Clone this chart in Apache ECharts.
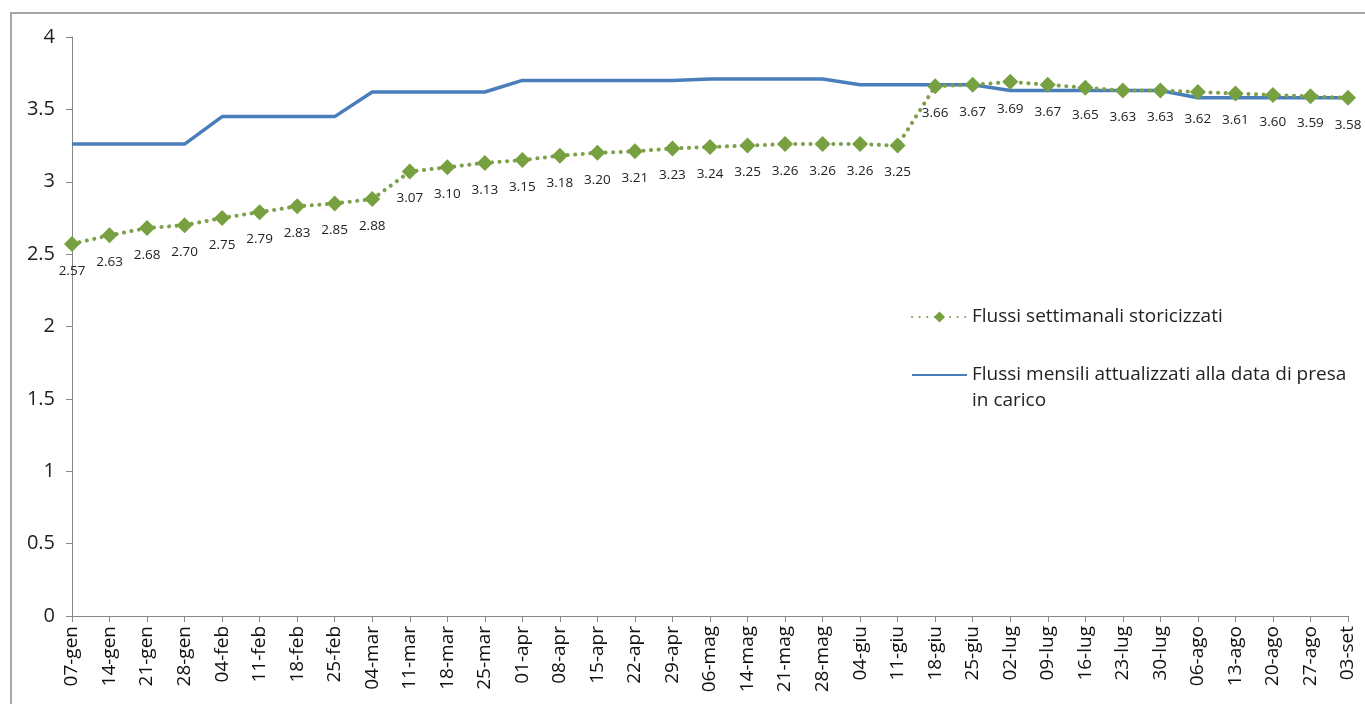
<!DOCTYPE html>
<html>
<head>
<meta charset="utf-8">
<script src="https://cdn.jsdelivr.net/npm/echarts@6/dist/echarts.min.js"></script>
<style>
html,body{margin:0;padding:0;background:#fff;}
#c{width:1365px;height:704px;}
</style>
</head>
<body>
<div id="c"></div>
<script>
const categories = ['07-gen','14-gen','21-gen','28-gen','04-feb','11-feb','18-feb','25-feb','04-mar','11-mar','18-mar','25-mar','01-apr','08-apr','15-apr','22-apr','29-apr','06-mag','14-mag','21-mag','28-mag','04-giu','11-giu','18-giu','25-giu','02-lug','09-lug','16-lug','23-lug','30-lug','06-ago','13-ago','20-ago','27-ago','03-set'];
const settimanali = [2.57,2.63,2.68,2.70,2.75,2.79,2.83,2.85,2.88,3.07,3.10,3.13,3.15,3.18,3.20,3.21,3.23,3.24,3.25,3.26,3.26,3.26,3.25,3.66,3.67,3.69,3.67,3.65,3.63,3.63,3.62,3.61,3.60,3.59,3.58];
const mensili = [3.26,3.26,3.26,3.26,3.45,3.45,3.45,3.45,3.62,3.62,3.62,3.62,3.70,3.70,3.70,3.70,3.70,3.71,3.71,3.71,3.71,3.67,3.67,3.67,3.67,3.63,3.63,3.63,3.63,3.63,3.58,3.58,3.58,3.58,3.58];
const yTicks = [0,0.5,1,1.5,2,2.5,3,3.5,4];
const nameSett = 'Flussi settimanali storicizzati';
const nameMens = 'Flussi mensili attualizzati alla data di presa in carico';

const FONT = '"Open Sans", sans-serif';
const chart = echarts.init(document.getElementById('c'));
chart.setOption({
  animation: false,
  backgroundColor: '#fff',
  graphic: [{
    type: 'rect', silent: true, z: -1,
    shape: {x: 11, y: 13, width: 1360, height: 700},
    style: {fill: 'none', stroke: '#a6a6a6', lineWidth: 2}
  }],
  grid: {left: 72, right: 17, top: 37, bottom: 88, containLabel: false},
  legend: {
    orient: 'vertical',
    left: 911, top: 304,
    itemGap: 6,
    itemWidth: 55, itemHeight: 14,
    padding: 0,
    data: [
      {name: nameSett},
      {name: nameMens, itemStyle: {opacity: 0}}
    ],
    formatter: function (n) { return n === nameMens ? ' \nFlussi mensili attualizzati alla data di presa\nin carico' : n; },
    textStyle: {fontFamily: FONT, fontSize: 19, color: '#222', lineHeight: 26}
  },
  xAxis: {
    type: 'category',
    data: categories,
    boundaryGap: false,
    axisLine: {lineStyle: {color: '#868686', width: 1}},
    axisTick: {show: true, alignWithLabel: true, length: 6, lineStyle: {color: '#868686'}},
    axisLabel: {rotate: 90, interval: 0, fontFamily: FONT, fontSize: 19, color: '#111', margin: 10},
    splitLine: {show: false}
  },
  yAxis: {
    type: 'value',
    min: yTicks[0], max: yTicks[yTicks.length - 1], interval: 0.5,
    axisLine: {show: true, lineStyle: {color: '#868686', width: 1}},
    axisTick: {show: true, length: 6, lineStyle: {color: '#868686'}},
    axisLabel: {fontFamily: FONT, fontSize: 20, color: '#222', margin: 17},
    splitLine: {show: false}
  },
  series: [
    {
      name: nameMens,
      type: 'line',
      data: mensili,
      showSymbol: false,
      symbol: 'none',
      lineStyle: {color: '#4a7ebb', width: 3.5},
      itemStyle: {color: '#4a7ebb'},
      z: 2
    },
    {
      name: nameSett,
      type: 'line',
      data: settimanali,
      symbol: 'diamond',
      symbolSize: 16,
      lineStyle: {color: '#7ea04a', width: 4, type: [0.1, 7.5], cap: 'round'},
      itemStyle: {color: '#77a040'},
      label: {
        show: true, position: 'bottom', distance: 12,
        fontFamily: FONT, fontSize: 13.5, color: '#222',
        formatter: function (p) { return p.value.toFixed(2); }
      },
      z: 3
    }
  ]
});
</script>
</body>
</html>
